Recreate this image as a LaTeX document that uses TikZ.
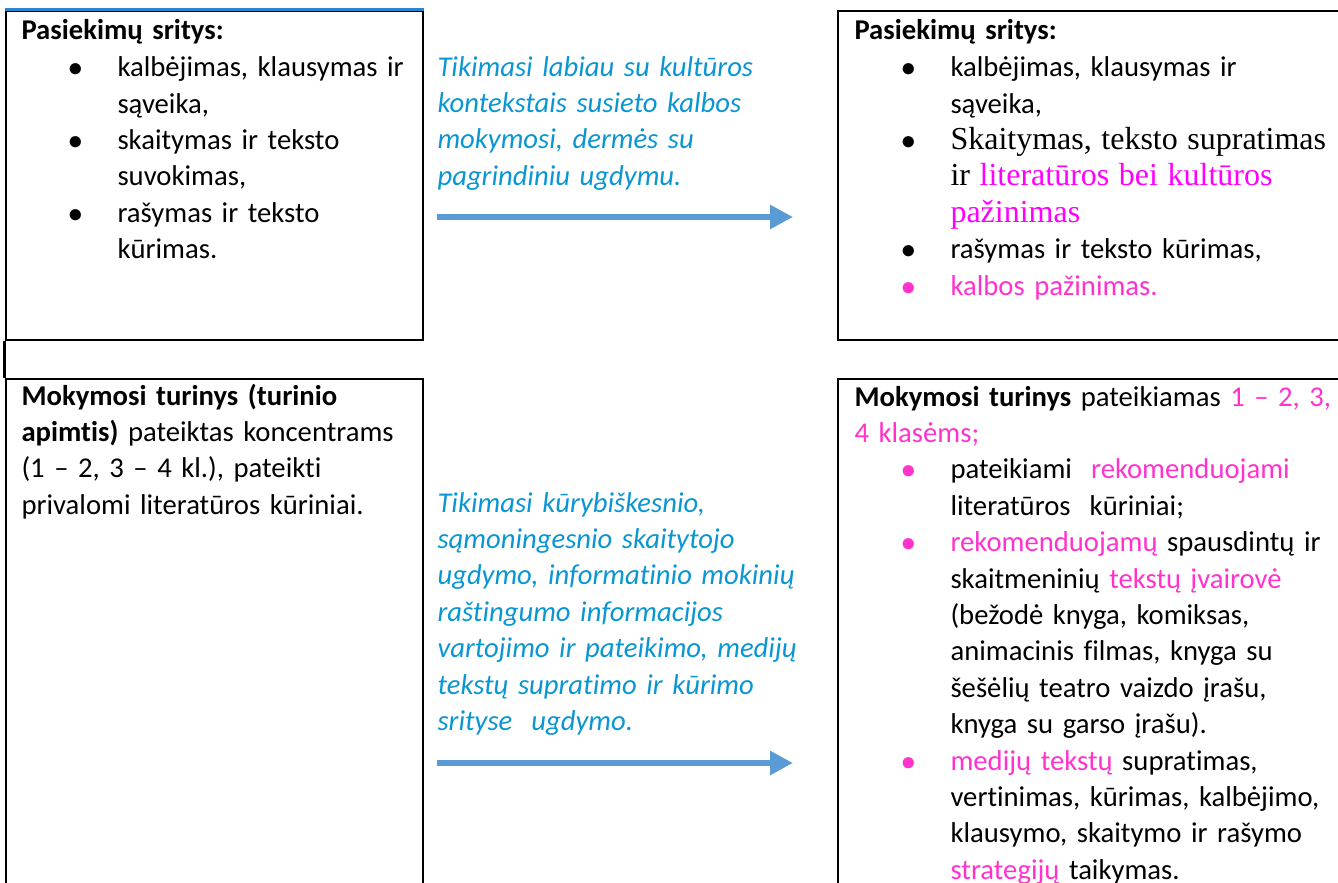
\documentclass[tikz,border=0pt]{standalone}
\usepackage{fontspec}
\setmainfont{Carlito}[Ligatures=NoCommon]
\newfontfamily\timesfont{Liberation Serif}
\usetikzlibrary{arrows.meta,fit}

\definecolor{hintblue}{RGB}{10,150,210}
\definecolor{arrowblue}{RGB}{91,155,213}
\definecolor{topblue}{RGB}{42,135,207}
\definecolor{newpink}{RGB}{255,51,204}
\definecolor{newmagenta}{RGB}{255,0,255}

\newcommand{\bul}[1][black]{\makebox[36pt][l]{\hspace{17.5pt}\textcolor{#1}{$\bullet$}}\ignorespaces}
\newcommand{\cont}{\hspace*{36pt}}
\newcommand{\serif}{\timesfont\fontsize{12pt}{13.65pt}\selectfont}

\begin{document}
\begin{tikzpicture}[x=0.375pt, y=-0.375pt,
    box/.style={draw, line width=1.1pt, inner sep=0pt},
    txt/.style={anchor=base west, inner sep=0pt, text width=250pt, align=left, font=\fontsize{10.75pt}{13.65pt}\selectfont},
    hint/.style={txt, text=hintblue, font=\fontsize{10.75pt}{13.65pt}\selectfont\itshape},
    flow/.style={arrowblue, line width=2.6pt, -{Triangle[length=8.6pt, width=8.6pt]}}
]
    \useasboundingbox (0,0) rectangle (1338,883);

    % Boxes
    \node[box, fit={(6,11) (423,340)}] (oldareasbox) {};
    \node[box, fit={(6,379) (423,900)}] (oldcontentbox) {};
    \node[box, fit={(838,11) (1350,340)}] (newareasbox) {};
    \node[box, fit={(838,379) (1350,900)}] (newcontentbox) {};
    \draw[line width=1.1pt] (oldareasbox.south west) -- (oldcontentbox.north west);
    \draw[topblue, line width=1.1pt] (oldareasbox.north west) -- (oldareasbox.north east);

    % Texts
    \node[txt] (oldareas) at (21,39) {\textbf{Pasiekimų sritys:}\\[0.5pt]
        \bul kalbėjimas, klausymas ir\\
        \cont sąveika,\\
        \bul skaitymas ir teksto\\
        \cont suvokimas,\\
        \bul rašymas ir teksto\\
        \cont kūrimas.};

    \node[txt] (newareas) at (854,39) {\textbf{Pasiekimų sritys:}\\[0.5pt]
        \bul kalbėjimas, klausymas ir\\
        \cont sąveika,\\
        \bul {\serif Skaitymas, teksto supratimas}\\
        \cont {\serif ir \textcolor{newmagenta}{literatūros bei kultūros}}\\
        \cont {\serif\textcolor{newmagenta}{pažinimas}}\\
        \bul rašymas ir teksto kūrimas,\\
        \bul[newpink] \textcolor{newpink}{kalbos pažinimas.}};

    \node[txt] (oldcontent) at (21,405) {\textbf{Mokymosi turinys (turinio}\\
        \textbf{apimtis)} pateiktas koncentrams\\
        (1 – 2, 3 – 4 kl.), pateikti\\
        privalomi literatūros kūriniai.};

    \node[txt] (newcontent) at (854,406) {\textbf{Mokymosi turinys} pateikiamas \textcolor{newpink}{1 – 2, 3,}\\
        \textcolor{newpink}{4 klasėms;}\\
        \bul[newpink] pateikiami\ \ \textcolor{newpink}{rekomenduojami}\\
        \cont literatūros\ \ kūriniai;\\
        \bul[newpink] \textcolor{newpink}{rekomenduojamų} spausdintų ir\\
        \cont skaitmeninių \textcolor{newpink}{tekstų įvairovė}\\
        \cont (bežodė knyga, komiksas,\\
        \cont animacinis filmas, knyga su\\
        \cont šešėlių teatro vaizdo įrašu,\\
        \cont knyga su garso įrašu).\\
        \bul[newpink] \textcolor{newpink}{medijų tekstų} supratimas,\\
        \cont vertinimas, kūrimas, kalbėjimo,\\
        \cont klausymo, skaitymo ir rašymo\\
        \cont \textcolor{newpink}{strategijų} taikymas.};

    \node[hint] (hintareas) at (437,76) {Tikimasi labiau su kultūros\\
        kontekstais susieto kalbos\\
        mokymosi, dermės su\\
        pagrindiniu ugdymu.};

    \node[hint] (hintcontent) at (437,512) {Tikimasi kūrybiškesnio,\\
        sąmoningesnio skaitytojo\\
        ugdymo, informatinio mokinių\\
        raštingumo informacijos\\
        vartojimo ir pateikimo, medijų\\
        tekstų supratimo ir kūrimo\\
        srityse\ \ ugdymo.};

    % Arrows
    \coordinate (arrowA) at (437,217);
    \coordinate (arrowAend) at (793,217);
    \coordinate (arrowB) at (437,763);
    \coordinate (arrowBend) at (793,763);
    \draw[flow] (arrowA) -- (arrowAend);
    \draw[flow] (arrowB) -- (arrowBend);

\end{tikzpicture}
\end{document}
